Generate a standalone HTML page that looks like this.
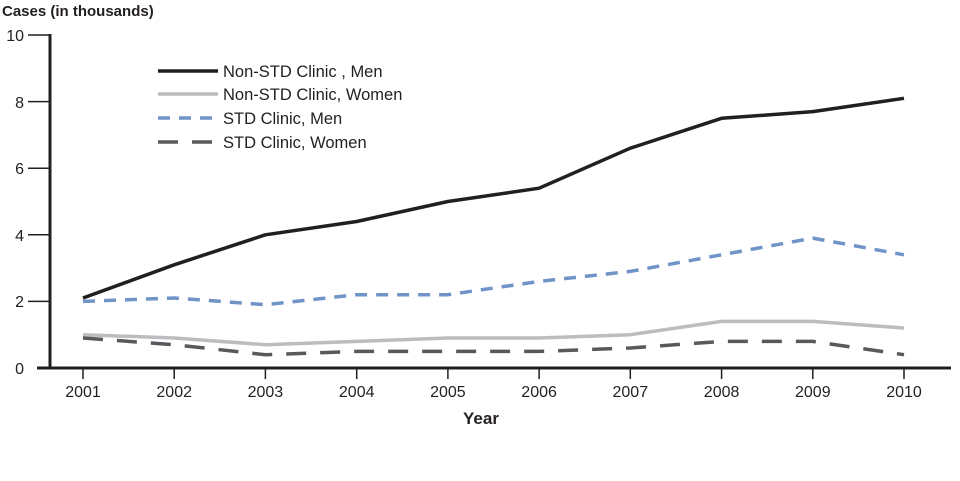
<!DOCTYPE html>
<html><head><style>body{margin:0;background:#fff}svg{display:block}</style></head><body>
<svg width="960" height="481" viewBox="0 0 960 481" xmlns="http://www.w3.org/2000/svg" font-family="Liberation Sans, sans-serif">
<text x="2" y="16" font-size="15" font-weight="bold" fill="#231f20">Cases (in thousands)</text>
<g stroke="#231f20" stroke-width="3" fill="none">
<line x1="50" y1="34" x2="50" y2="369"/>
<line x1="37" y1="368" x2="951" y2="368"/>
</g>
<g stroke="#231f20" stroke-width="1.5">
<line x1="28" y1="35" x2="50" y2="35"/><line x1="28" y1="101.6" x2="50" y2="101.6"/><line x1="28" y1="168.2" x2="50" y2="168.2"/><line x1="28" y1="234.8" x2="50" y2="234.8"/><line x1="28" y1="301.4" x2="50" y2="301.4"/>
<line x1="83" y1="368" x2="83" y2="379"/><line x1="174.2" y1="368" x2="174.2" y2="379"/><line x1="265.4" y1="368" x2="265.4" y2="379"/><line x1="356.7" y1="368" x2="356.7" y2="379"/><line x1="447.9" y1="368" x2="447.9" y2="379"/><line x1="539.1" y1="368" x2="539.1" y2="379"/><line x1="630.3" y1="368" x2="630.3" y2="379"/><line x1="721.6" y1="368" x2="721.6" y2="379"/><line x1="812.8" y1="368" x2="812.8" y2="379"/><line x1="904" y1="368" x2="904" y2="379"/>
</g>
<g font-size="16" fill="#231f20" text-anchor="end">
<text x="24" y="41">10</text><text x="24" y="108">8</text><text x="24" y="174">6</text><text x="24" y="241">4</text><text x="24" y="307">2</text><text x="24" y="374">0</text>
</g>
<g font-size="16" fill="#231f20" text-anchor="middle">
<text x="83" y="397">2001</text><text x="174.2" y="397">2002</text><text x="265.4" y="397">2003</text><text x="356.7" y="397">2004</text><text x="447.9" y="397">2005</text><text x="539.1" y="397">2006</text><text x="630.3" y="397">2007</text><text x="721.6" y="397">2008</text><text x="812.8" y="397">2009</text><text x="904" y="397">2010</text>
</g>
<text x="481" y="424" font-size="17" font-weight="bold" text-anchor="middle" fill="#231f20">Year</text>
<g fill="none" stroke-width="3.5" stroke-linejoin="round">
<polyline stroke="#bcbdc0" points="83,334.7 174.2,338 265.4,344.7 356.7,341.4 447.9,338 539.1,338 630.3,334.7 721.6,321.4 812.8,321.4 904,328"/>
<polyline stroke="#58595b" stroke-dasharray="20,14" points="83,338 174.2,344.7 265.4,354.7 356.7,351.4 447.9,351.4 539.1,351.4 630.3,348 721.6,341.4 812.8,341.4 904,354.7"/>
<polyline stroke="#7094c8" stroke-dasharray="12,9" points="83,301.4 174.2,298 265.4,304.7 356.7,294.7 447.9,294.7 539.1,281.4 630.3,271.4 721.6,254.8 812.8,238.1 904,254.8"/>
<polyline stroke="#231f20" points="83,298 174.2,264.8 265.4,234.8 356.7,221.5 447.9,201.5 539.1,188.2 630.3,148.2 721.6,118.3 812.8,111.6 904,98.3"/>
</g>
<g stroke-width="3.5">
<line x1="158" y1="71" x2="218" y2="71" stroke="#231f20"/>
<line x1="158" y1="94" x2="218" y2="94" stroke="#bcbdc0"/>
<line x1="158" y1="118" x2="218" y2="118" stroke="#7094c8" stroke-dasharray="12,9"/>
<line x1="158" y1="142" x2="218" y2="142" stroke="#58595b" stroke-dasharray="20,14"/>
</g>
<g font-size="16.5" fill="#231f20">
<text x="223" y="77">Non-STD Clinic , Men</text>
<text x="223" y="100">Non-STD Clinic, Women</text>
<text x="223" y="124">STD Clinic, Men</text>
<text x="223" y="148">STD Clinic, Women</text>
</g>
</svg>
</body></html>
